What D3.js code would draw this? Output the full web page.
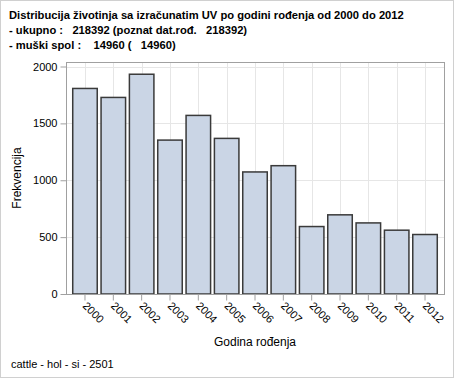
<!DOCTYPE html>
<html>
<head>
<meta charset="utf-8">
<script src="https://cdn.jsdelivr.net/npm/d3@7"></script>
<style>
  body { margin: 0; background: #fff; }
  text { font-family: "Liberation Sans", Arial, sans-serif; fill: #000; }
</style>
</head>
<body>
<script>
var w = 454;
var h = 378;

// podaci
var godine = ["2000","2001","2002","2003","2004","2005","2006","2007","2008","2009","2010","2011","2012"];
var frekvencije = [1807, 1728, 1932, 1353, 1570, 1368, 1073, 1128, 593, 696, 625, 561, 523];
var yTicks = [0, 500, 1000, 1500, 2000];
var naslov = [
    "Distribucija životinja sa izračunatim UV po godini rođenja od 2000 do 2012",
    "- ukupno :   218392 (poznat dat.rođ.   218392)",
    "- muški spol :    14960 (   14960)"
];

var plot = {left: 66, right: 444, top: 62, bottom: 294};

var xScale = d3.scaleBand()
    .domain(godine)
    .range([plot.left + 4.8, plot.right - 4.8])
    .paddingInner(0.135)
    .paddingOuter(0.068);

var yScale = d3.scaleLinear()
    .domain([0, 2000])
    .range([plot.bottom, 66.5]);

var svg = d3.select("body")
    .append("svg")
    .attr("width", w)
    .attr("height", h);

// okvir slike
svg.append("rect")
    .attr("x", 0.5).attr("y", 0.5)
    .attr("width", w - 1).attr("height", h - 1)
    .attr("fill", "#fff")
    .attr("stroke", "#d0d0d0");

// naslov
svg.selectAll("text.naslov")
    .data(naslov)
    .enter()
    .append("text")
    .attr("class", "naslov")
    .attr("x", 9)
    .attr("y", function(d, i) { return 19 + i * 15; })
    .attr("font-size", "11.2px")
    .attr("font-weight", "bold")
    .style("white-space", "pre")
    .text(function(d) { return d; });

// mreza
svg.selectAll("line.hgrid")
    .data(yTicks.slice(1))
    .enter()
    .append("line")
    .attr("x1", plot.left).attr("x2", plot.right)
    .attr("y1", function(d) { return Math.round(yScale(d)) + 0.5; })
    .attr("y2", function(d) { return Math.round(yScale(d)) + 0.5; })
    .attr("stroke", "#e6e6e6");

svg.selectAll("line.vgrid")
    .data(godine)
    .enter()
    .append("line")
    .attr("x1", function(d) { return Math.round(xScale(d) + xScale.bandwidth() / 2) + 0.5; })
    .attr("x2", function(d) { return Math.round(xScale(d) + xScale.bandwidth() / 2) + 0.5; })
    .attr("y1", plot.top).attr("y2", plot.bottom)
    .attr("stroke", "#e6e6e6");

// stupci
svg.selectAll("rect.bar")
    .data(frekvencije)
    .enter()
    .append("rect")
    .attr("class", "bar")
    .attr("x", function(d, i) { return xScale(godine[i]); })
    .attr("y", function(d) { return yScale(d); })
    .attr("width", xScale.bandwidth())
    .attr("height", function(d) { return plot.bottom - yScale(d); })
    .attr("fill", "#cad5e5")
    .attr("stroke", "#3a3a3a")
    .attr("stroke-width", 1.5);

// okvir grafa
svg.append("rect")
    .attr("x", plot.left + 0.5).attr("y", plot.top + 0.5)
    .attr("width", plot.right - plot.left).attr("height", plot.bottom - plot.top)
    .attr("fill", "none")
    .attr("stroke", "#a0a0a0");

// osi
var yAxis = d3.axisLeft(yScale).tickValues(yTicks).tickFormat(d3.format("d")).tickSize(6).tickPadding(3);
var gy = svg.append("g")
    .attr("transform", "translate(" + (plot.left + 0.5) + ",0)")
    .call(yAxis);
gy.select(".domain").remove();
gy.selectAll(".tick line").attr("stroke", "#a0a0a0");
gy.selectAll(".tick text").attr("font-size", "11px").attr("font-family", "Liberation Sans, Arial, sans-serif").attr("fill", "#000");

var xAxis = d3.axisBottom(xScale).tickSize(6).tickPadding(4);
var gx = svg.append("g")
    .attr("transform", "translate(0," + (plot.bottom + 0.5) + ")")
    .call(xAxis);
gx.select(".domain").remove();
gx.selectAll(".tick line").attr("stroke", "#a0a0a0");
gx.selectAll(".tick text")
    .attr("font-size", "11px")
    .attr("font-family", "Liberation Sans, Arial, sans-serif")
    .attr("fill", "#000")
    .attr("text-anchor", "start")
    .attr("dy", null)
    .attr("transform", "translate(-3,12) rotate(45)")
    .attr("y", 0)
    .attr("x", 0);

// naslovi osi
svg.append("text")
    .attr("x", (plot.left + plot.right) / 2)
    .attr("y", 346)
    .attr("text-anchor", "middle")
    .attr("font-size", "12px")
    .text("Godina rođenja");

svg.append("text")
    .attr("transform", "translate(21," + ((plot.top + plot.bottom) / 2) + ") rotate(-90)")
    .attr("text-anchor", "middle")
    .attr("font-size", "12px")
    .text("Frekvencija");

// fusnota
svg.append("text")
    .attr("x", 11)
    .attr("y", 368)
    .attr("font-size", "11px")
    .text("cattle - hol - si - 2501");
</script>
</body>
</html>
